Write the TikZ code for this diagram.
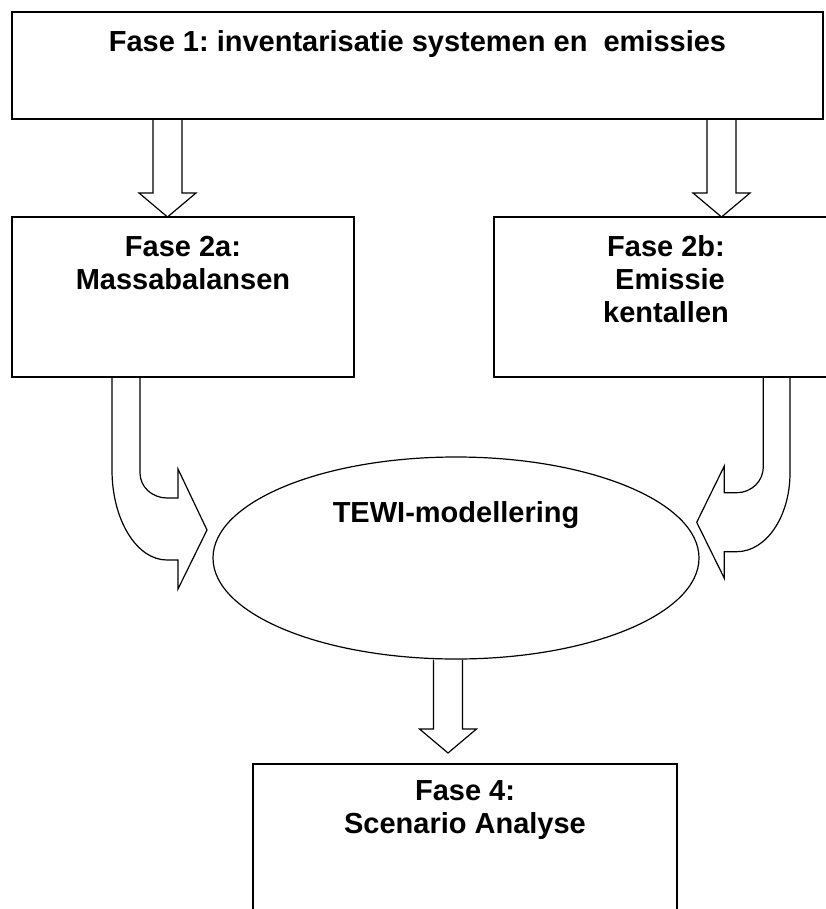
\documentclass[tikz,border=0pt]{standalone}
\usepackage{fontspec}
\setmainfont{Liberation Sans}
\usetikzlibrary{positioning,calc,shapes.geometric}
\frenchspacing

\tikzset{
  fasebox/.style={draw, line width=1.8pt, inner sep=0pt, outer sep=0pt},
  fasetext/.style={font=\fontsize{29}{33}\selectfont\bfseries, align=center, inner sep=0pt, outer sep=0pt},
  blockarrow/.style={draw, line width=1.2pt},
}
\newcommand{\blockdown}[2]{%
  \draw[blockarrow] ($(#1)+(-14.5,0)$) -- ($(#2)+(-14.5,-24)$) -- ($(#2)+(-28.5,-24)$) -- (#2)
    -- ($(#2)+(28.5,-24)$) -- ($(#2)+(14.5,-24)$) -- ($(#1)+(14.5,0)$);}

\begin{document}
\begin{tikzpicture}[x=1pt,y=-1pt]
\useasboundingbox (0,0) rectangle (826,909);
\clip (0,0) rectangle (826,909);
\node[fasebox, minimum width=811pt, minimum height=107pt] (fase1) at (417.5,65.5) {};
\node[fasebox, minimum width=342pt, minimum height=160pt] (fase2a) at (183,297) {};
\node[fasebox, minimum width=344pt, minimum height=160pt] (fase2b) at (666,297) {};
\node[fasebox, minimum width=424pt, minimum height=160pt] (fase4) at (465,844) {};
\node[draw, ellipse, line width=1.2pt, minimum width=486pt, minimum height=202pt, inner sep=0pt] (tewi) at (456,558) {};
\node[fasetext, below=18pt of fase1.north] (t1) {Fase 1: inventarisatie systemen en\ \ emissies};
\node[fasetext, below=19pt of fase2a.north] (t2a) {Fase 2a:\\Massabalansen};
\node[fasetext, below=18pt of fase2b.north] (t2b) {Fase 2b:\\\ Emissie\\kentallen};
\node[fasetext, below=45pt of tewi.north] (t3) {TEWI-modellering};
\node[fasetext, below=17pt of fase4.north] (t4) {Fase 4:\\Scenario Analyse};
\coordinate (al) at (167.5,0);
\coordinate (ar) at (721.5,0);
\coordinate (ab) at (448,0);
\coordinate (cl) at (112,0);
\coordinate (cr) at (790,0);
\coordinate (tip4) at ($(ab |- fase4.north)+(0,-11)$);
\blockdown{al |- fase1.south}{al |- fase2a.north}
\blockdown{ar |- fase1.south}{ar |- fase2b.north}
\blockdown{ab |- tewi.south}{tip4}
\begin{scope}[shift={(cl |- fase2a.south)}]
\draw[blockarrow] (0,0) -- (0,93) .. controls (0,142.7) and (24.6,183) .. (55,183) -- (66,183) -- (66,212)
  -- (95,153) -- (66,92) -- (66,121) -- (55,121) .. controls (40.1,121) and (28,109.8) .. (28,96) -- (28,0);
\end{scope}
\begin{scope}[shift={(cr |- fase2b.south)}]
\draw[blockarrow] (0,0) -- (0,96) .. controls (0,139.6) and (-23.9,174.7) .. (-53.3,174.7) -- (-65.7,174.7) -- (-65.7,201.3)
  -- (-93.3,145.3) -- (-65.7,89) -- (-65.7,115.7) -- (-53.3,115.7) .. controls (-38.6,115.7) and (-26.7,104.2) .. (-26.7,90) -- (-26.7,0);
\end{scope}
\end{tikzpicture}
\end{document}
